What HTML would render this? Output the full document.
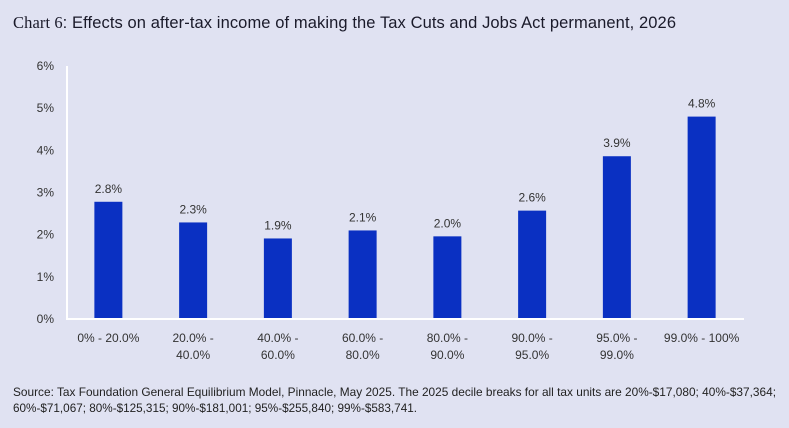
<!DOCTYPE html>
<html><head><meta charset="utf-8"><style>
body{margin:0;background:#e0e2f2;}
svg{display:block;font-family:"Liberation Sans",sans-serif;}
</style></head><body>
<svg id="c" width="789" height="428">
<rect width="789" height="428" fill="#e0e2f2"/>
<text x="13" y="28" font-size="16.5" fill="#1a1a2a" textLength="663" lengthAdjust="spacing"><tspan font-family="Liberation Serif,serif">Chart 6</tspan>: Effects on after-tax income of making the Tax Cuts and Jobs Act permanent, 2026</text>
<g id="plot"></g>
<text x="13" y="396" font-size="11.8" fill="#222" textLength="763" lengthAdjust="spacingAndGlyphs">Source: Tax Foundation General Equilibrium Model, Pinnacle, May 2025. The 2025 decile breaks for all tax units are 20%-$17,080; 40%-$37,364;</text>
<text x="13" y="412" font-size="11.8" fill="#222" textLength="404" lengthAdjust="spacingAndGlyphs">60%-$71,067; 80%-$125,315; 90%-$181,001; 95%-$255,840; 99%-$583,741.</text>
</svg>
<script>
const categories=[["0% - 20.0%"],["20.0% -","40.0%"],["40.0% -","60.0%"],["60.0% -","80.0%"],["80.0% -","90.0%"],["90.0% -","95.0%"],["95.0% -","99.0%"],["99.0% - 100%"]];
const values=[2.78,2.29,1.91,2.1,1.96,2.57,3.86,4.8];
const labels=["2.8%","2.3%","1.9%","2.1%","2.0%","2.6%","3.9%","4.8%"];
const ticks=[0,1,2,3,4,5,6];
const x0=66,x1=744,y0=319,y6=66;
const y=v=>y0-(v/6)*(y0-y6);
const band=(x1-x0)/categories.length;
const xc=i=>x0+band*(i+0.5);
const g=document.getElementById('plot');
const NS="http://www.w3.org/2000/svg";
function mk(t,a,txt){const e=document.createElementNS(NS,t);for(const k in a)e.setAttribute(k,a[k]);if(txt!=null)e.textContent=txt;g.appendChild(e);return e;}
ticks.forEach(t=>{const e=mk('text',{x:54,y:y(t)+4,'text-anchor':'end','font-size':12,fill:'#333'},t+'%');

});
values.forEach((v,i)=>{
const r=mk('rect',{x:xc(i)-14,y:y(v),width:28,height:y0-y(v),fill:'#0a30c2'});


const l=mk('text',{x:xc(i),y:y(v)-9,'text-anchor':'middle','font-size':12,fill:'#333'},labels[i]);


categories[i].forEach((s,j)=>{const c=mk('text',{x:xc(i),y:342+j*17,'text-anchor':'middle','font-size':12,fill:'#333'},s);

});
});
const ax=mk('line',{x1:x0+1,x2:x0+1,y1:y6,y2:y0,stroke:'#fff','stroke-width':2});


const bx=mk('line',{x1:x0,x2:x1,y1:y0,y2:y0,stroke:'#fff','stroke-width':2});


</script>
</body></html>
